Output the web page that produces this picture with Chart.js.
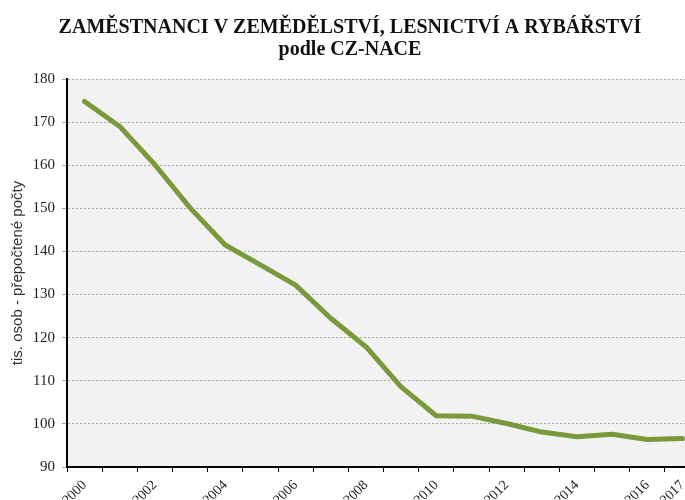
<!DOCTYPE html>
<html>
<head>
<meta charset="utf-8">
<script src="https://cdn.jsdelivr.net/npm/chart.js@4"></script>
<style>
  html, body { margin: 0; padding: 0; background: #fff; overflow: hidden; }
  #wrap { width: 685px; height: 500px; overflow: hidden; }
</style>
</head>
<body>
<div id="wrap"><canvas id="chart" width="700" height="500"></canvas></div>
<script>
// ---- Data ----
const years = ["2000", "2001", "2002", "2003", "2004", "2005", "2006", "2007", "2008",
               "2009", "2010", "2011", "2012", "2013", "2014", "2015", "2016", "2017"];
const employees = [174.8, 169.0, 160.1, 150.1, 141.5, 136.9, 132.2, 124.5, 117.9,
                   108.6, 101.9, 101.8, 100.1, 98.1, 97.0, 97.6, 96.4, 96.6];
const shownYears = ["2000", "2002", "2004", "2006", "2008", "2010", "2012", "2014", "2016", "2017"];
const yMin = 90, yMax = 180, yStep = 10;

const titleLines = ["ZAMĚSTNANCI V ZEMĚDĚLSTVÍ, LESNICTVÍ A RYBÁŘSTVÍ", "podle CZ-NACE"];
const yTitle = "tis. osob - přepočtené počty";

// ---- Colors ----
const C = {
  line:   "#789a3a",
  plotBg: "#f2f2f2",
  grid:   "#a8a8a8",
  axis:   "#000000",
  text:   "#222222",
};

// gray plot area like the original
const plotBackground = {
  id: "plotBackground",
  beforeDraw(chart) {
    const {ctx, chartArea: a} = chart;
    ctx.save();
    ctx.fillStyle = C.plotBg;
    ctx.fillRect(a.left, a.top, a.right - a.left, a.bottom - a.top);
    ctx.restore();
  }
};

new Chart(document.getElementById("chart"), {
  type: "line",
  data: {
    labels: years,
    datasets: [{
      data: employees,
      borderColor: C.line,
      borderWidth: 5,
      pointRadius: 0,
      tension: 0,
      borderJoinStyle: "round",
      borderCapStyle: "round",
    }]
  },
  options: {
    responsive: false,
    animation: false,
    devicePixelRatio: 1,
    layout: { padding: 0 },
    plugins: {
      legend: { display: false },
      tooltip: { enabled: false },
      title: {
        display: true,
        text: titleLines,
        color: "#111",
        font: { family: "'Liberation Serif', 'Times New Roman', serif", size: 20, weight: "bold", lineHeight: 1.1 },
        padding: { top: 17, bottom: 18 },
      }
    },
    scales: {
      x: {
        offset: true,
        grid: { offset: true, drawOnChartArea: false, tickLength: 5, tickColor: C.axis, tickWidth: 1 },
        border: { color: C.axis, width: 2 },
        ticks: {
          autoSkip: false,
          maxRotation: 45,
          minRotation: 45,
          padding: 5,
          color: C.text,
          font: { family: "'Liberation Serif', serif", size: 14 },
          callback(v) { const y = years[v]; return shownYears.includes(y) ? y : ""; }
        },
        afterFit(scale) { scale.height = 33; }
      },
      y: {
        min: yMin,
        max: yMax,
        ticks: {
          stepSize: yStep,
          padding: 7,
          color: C.text,
          font: { family: "'Liberation Serif', serif", size: 15 },
        },
        grid: { color: C.grid, lineWidth: 1, tickLength: 5 },
        border: { color: C.axis, width: 2, dash: [2, 2] },
        title: {
          display: true,
          text: yTitle,
          color: "#333",
          font: { family: "'Liberation Sans Narrow', 'Liberation Sans', sans-serif", size: 15 },
          padding: { top: 9, bottom: 0 },
        },
        afterFit(scale) { scale.width = 67; }
      }
    }
  },
  plugins: [plotBackground]
});
</script>
</body>
</html>
